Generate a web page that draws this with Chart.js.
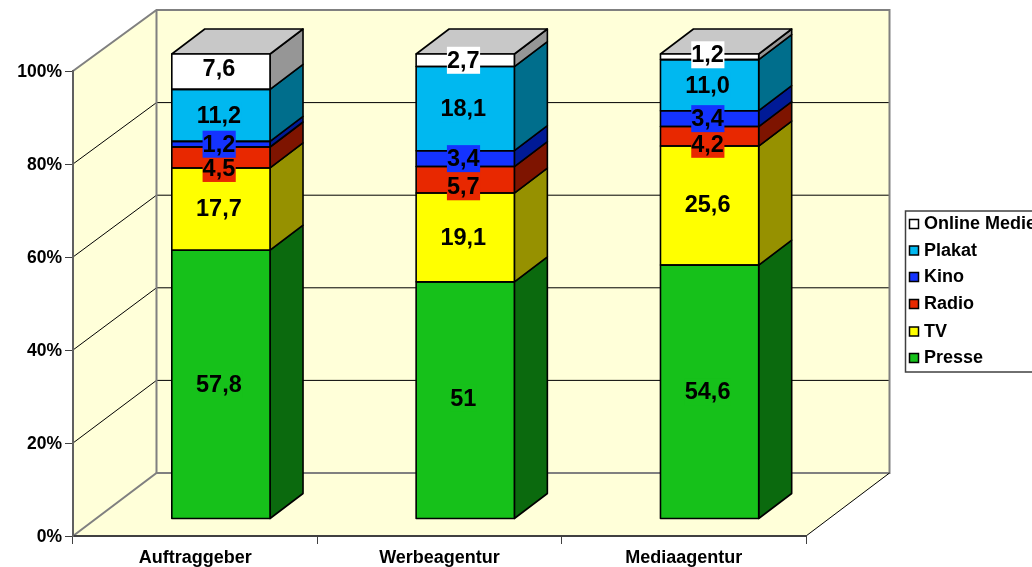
<!DOCTYPE html>
<html>
<head>
<meta charset="utf-8">
<style>
  html, body { margin: 0; padding: 0; background: #fff; overflow: hidden; }
  canvas { display: block; }
</style>
<script src="https://cdn.jsdelivr.net/npm/chart.js@4"></script>
</head>
<body>
<canvas id="chart" width="1032" height="567"></canvas>
<script>
const categories = ['Auftraggeber', 'Werbeagentur', 'Mediaagentur'];
const presse = [57.8, 51, 54.6];
const tv = [17.7, 19.1, 25.6];
const radio = [4.5, 5.7, 4.2];
const kino = [1.2, 3.4, 3.4];
const plakat = [11.2, 18.1, 11.0];
const online = [7.6, 2.7, 1.2];
const yTicks = [0, 20, 40, 60, 80, 100];

const legendFont = 'bold 18px "Liberation Sans", Arial, sans-serif';
const labelFont = 'bold 23.5px "Liberation Sans", Arial, sans-serif';
const wallColor = '#FFFFD9';
const edgeColor = '#808080';

// fake 3d: how far the walls and the bars go back
const wallDepth = { x: 83.5, y: -63 };
const barOffset = { x: 25.75, y: -17 };
const barDepth = { x: 33, y: -25 };
const wallSquash = 0.9957; // back wall is a touch shorter than the axis

// label nudges in px (excel moved the crowded ones), by dataset then category
const labelNudge = {
  0: [0, -2, 0],
  1: [-1, 0, -1],
  2: [11, 7, 8],
  5: [-3, 0, -2],
};

function poly(ctx, pts, fill, stroke, lw) {
  ctx.beginPath();
  pts.forEach((p, i) => (i ? ctx.lineTo(p[0], p[1]) : ctx.moveTo(p[0], p[1])));
  ctx.closePath();
  if (fill) { ctx.fillStyle = fill; ctx.fill(); }
  if (stroke) { ctx.strokeStyle = stroke; ctx.lineWidth = lw; ctx.stroke(); }
}

function line(ctx, pts, color, lw) {
  ctx.beginPath();
  pts.forEach((p, i) => (i ? ctx.lineTo(p[0], p[1]) : ctx.moveTo(p[0], p[1])));
  ctx.strokeStyle = color;
  ctx.lineWidth = lw;
  ctx.stroke();
}

const wallsPlugin = {
  id: 'walls',
  beforeDraw(chart) {
    const { ctx, chartArea: a, scales } = chart;
    const dx = wallDepth.x, dy = wallDepth.y;
    const back = y => a.bottom + dy + (y - a.bottom) * wallSquash;
    const top = back(a.top), floor = back(a.bottom);
    ctx.save();
    poly(ctx, [[a.left, a.top], [a.left + dx, top], [a.left + dx, floor], [a.left, a.bottom]], wallColor);
    poly(ctx, [[a.left + dx, top], [a.right + dx, top], [a.right + dx, floor], [a.left + dx, floor]], wallColor);
    poly(ctx, [[a.left, a.bottom], [a.left + dx, floor], [a.right + dx, floor], [a.right, a.bottom]], wallColor);

    yTicks.slice(1, -1).forEach(v => {
      const y = scales.y.getPixelForValue(v);
      line(ctx, [[a.left, y], [a.left + dx, back(y)], [a.right + dx, back(y)]], '#000', 1);
    });

    line(ctx, [[a.left, a.bottom], [a.left + dx, floor], [a.right + dx, floor], [a.right + dx, top], [a.left + dx, top], [a.left, a.top]], edgeColor, 2);
    line(ctx, [[a.left + dx, top], [a.left + dx, floor]], edgeColor, 2);
    line(ctx, [[a.right, a.bottom], [a.right + dx, floor]], '#000', 1);
    ctx.restore();
  },
};

const barsPlugin = {
  id: 'bars3d',
  beforeDatasetsDraw(chart) {
    const { ctx, data } = chart;
    const dx = barDepth.x, dy = barDepth.y;
    ctx.save();
    ctx.translate(barOffset.x, barOffset.y);
    ctx.lineJoin = 'round';
    data.datasets.forEach((ds, i) => {
      chart.getDatasetMeta(i).data.forEach(el => {
        const r = el.x + el.width / 2, l = el.x - el.width / 2;
        poly(ctx, [[r, el.y], [r + dx, el.y + dy], [r + dx, el.base + dy], [r, el.base]], ds.sideColor, '#000', 1.6);
        if (i === data.datasets.length - 1) {
          poly(ctx, [[l, el.y], [l + dx, el.y + dy], [r + dx, el.y + dy], [r, el.y]], '#C8C8C8', '#000', 1.6);
        }
      });
    });
  },
  afterDatasetsDraw(chart) {
    const { ctx, data } = chart;
    // outlines centred on the segment edges so neighbours don't double up
    data.datasets.forEach((ds, i) => {
      chart.getDatasetMeta(i).data.forEach(el => {
        ctx.strokeStyle = '#000';
        ctx.lineWidth = 1.6;
        ctx.strokeRect(el.x - el.width / 2, el.y, el.width, el.base - el.y);
      });
    });
    ctx.restore();
    ctx.save();
    ctx.font = labelFont;
    ctx.textAlign = 'center';
    ctx.textBaseline = 'middle';
    data.datasets.forEach((ds, i) => {
      chart.getDatasetMeta(i).data.forEach((el, j) => {
        const text = String(ds.data[j]).replace('.', ',') + (ds.data[j] === 11 ? ',0' : '');
        const x = el.x + barOffset.x - 2;
        const y = (el.y + el.base) / 2 + barOffset.y + (labelNudge[i] ? labelNudge[i][j] : 0);
        const w = ctx.measureText(text).width;
        ctx.fillStyle = ds.backgroundColor;
        ctx.fillRect(x - w / 2, y - 13.5, w + 0.5, 27);
        ctx.fillStyle = '#000';
        ctx.fillText(text, x, y + 1);
      });
    });
    ctx.restore();
  },
  afterDraw(chart) {
    // legend box runs off the right edge like in the original
    const { ctx, data } = chart;
    const rows = [224, 250.5, 277, 304, 331.5, 358];
    ctx.save();
    ctx.fillStyle = '#fff';
    ctx.fillRect(905, 211, 140, 161);
    ctx.strokeStyle = '#404040';
    ctx.lineWidth = 1.5;
    ctx.strokeRect(905.5, 211, 140, 161);
    ctx.font = legendFont;
    ctx.textBaseline = 'middle';
    ctx.textAlign = 'left';
    data.datasets.slice().reverse().forEach((ds, i) => {
      ctx.fillStyle = ds.backgroundColor;
      ctx.fillRect(909.5, rows[i] - 4.5, 9, 9);
      ctx.strokeStyle = '#000';
      ctx.lineWidth = 1.5;
      ctx.strokeRect(909.5, rows[i] - 4.5, 9, 9);
      ctx.fillStyle = '#000';
      ctx.fillText(ds.label, 924, rows[i] + 0.5);
    });
    ctx.restore();
  },
};

new Chart(document.getElementById('chart'), {
  type: 'bar',
  data: {
    labels: categories,
    datasets: [
      { label: 'Presse', data: presse, backgroundColor: '#16C11A', sideColor: '#0B6A0E' },
      { label: 'TV', data: tv, backgroundColor: '#FFFF00', sideColor: '#969100' },
      { label: 'Radio', data: radio, backgroundColor: '#E82800', sideColor: '#7E1400' },
      { label: 'Kino', data: kino, backgroundColor: '#1433FF', sideColor: '#001A96' },
      { label: 'Plakat', data: plakat, backgroundColor: '#00B8F0', sideColor: '#006E8C' },
      { label: 'Online Medien', data: online, backgroundColor: '#FFFFFF', sideColor: '#969696' },
    ].map(ds => ({
      ...ds,
      borderWidth: 0,
      barPercentage: 0.402,
      categoryPercentage: 1,
      clip: false,
    })),
  },
  options: {
    responsive: false,
    animation: false,
    devicePixelRatio: 1,
    layout: { padding: { left: 0, top: 71, right: 226, bottom: 0 } },
    plugins: { legend: { display: false }, tooltip: { enabled: false } },
    scales: {
      x: {
        stacked: true,
        offset: true,
        afterFit: s => { s.height = 31; },
        border: { color: '#404040', width: 2 },
        grid: { drawOnChartArea: false, tickLength: 8, tickColor: '#404040' },
        ticks: { color: '#000', font: { size: 18, weight: 'bold', family: '"Liberation Sans"' }, padding: 3, maxRotation: 0, autoSkip: false },
      },
      y: {
        stacked: true,
        min: 0,
        max: 100,
        afterFit: s => { s.width = 73; },
        afterBuildTicks: s => { s.ticks = yTicks.map(value => ({ value })); },
        border: { color: '#606060', width: 2 },
        grid: { drawOnChartArea: false, tickLength: 8, tickColor: '#404040' },
        ticks: { color: '#000', font: { size: 17.5, weight: 'bold', family: '"Liberation Sans"' }, padding: 3, labelOffset: 1, callback: v => v + '%' },
      },
    },
  },
  plugins: [wallsPlugin, barsPlugin],
});
</script>
</body>
</html>
